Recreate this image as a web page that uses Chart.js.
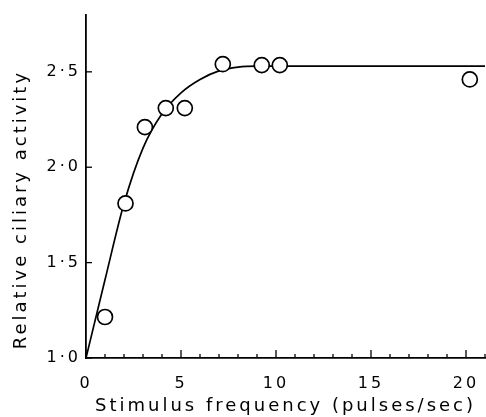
<!DOCTYPE html>
<html>
<head>
<meta charset="utf-8">
<script src="https://cdn.jsdelivr.net/npm/chart.js@4.4.0/dist/chart.umd.min.js"></script>
<style>
  html, body { margin: 0; padding: 0; background: #fff; }
  #wrap { width: 486px; height: 417px; }
</style>
</head>
<body>
<div id="wrap"><canvas id="chart"></canvas></div>
<script>
// open circles (measured)
const freqPts = [1.0, 2.08, 3.1, 4.2, 5.2, 7.2, 9.25, 10.2, 20.2];
const activityPts = [1.215, 1.81, 2.21, 2.31, 2.31, 2.54, 2.535, 2.535, 2.46];

// smooth curve drawn through the points
const curveFreq = [0, 1, 2, 3, 4, 5, 6, 7, 8, 9, 21];
const curveAct = [1.0, 1.41, 1.81, 2.1, 2.28, 2.39, 2.46, 2.505, 2.525, 2.53, 2.53];

// axis ticks
const xTicks = [0, 1, 2, 3, 4, 5, 6, 7, 8, 9, 10, 11, 12, 13, 14, 15, 16, 17, 18, 19, 20, 21];
const xLabelled = [0, 5, 10, 15, 20];
const yTicks = [1.0, 1.5, 2.0, 2.5];

const FONT = '"DejaVu Sans", sans-serif';

// tick marks point into the plot, like the original
const inwardTicks = {
    id: 'inwardTicks',
    beforeDraw(chart) {
        chart.ctx.letterSpacing = '3px';
    },
    afterDraw(chart) {
        const { ctx, chartArea, scales: { x, y } } = chart;
        ctx.save();
        ctx.strokeStyle = '#000';
        ctx.lineWidth = 1.3;
        xTicks.forEach(v => {
            const px = x.getPixelForValue(v);
            const len = xLabelled.includes(v) ? 8 : 4;
            ctx.beginPath();
            ctx.moveTo(px, chartArea.bottom);
            ctx.lineTo(px, chartArea.bottom - len);
            ctx.stroke();
        });
        yTicks.forEach(v => {
            const py = y.getPixelForValue(v);
            ctx.beginPath();
            ctx.moveTo(chartArea.left, py);
            ctx.lineTo(chartArea.left + 6, py);
            ctx.stroke();
        });
        ctx.restore();
    }
};

new Chart(document.getElementById('chart'), {
    type: 'scatter',
    data: {
        datasets: [
            {
                data: freqPts.map((f, i) => ({ x: f, y: activityPts[i] })),
                pointRadius: 7.5,
                pointBorderWidth: 1.7,
                pointBorderColor: '#000',
                pointBackgroundColor: '#fff',
                showLine: false
            },
            {
                data: curveFreq.map((f, i) => ({ x: f, y: curveAct[i] })),
                showLine: true,
                borderColor: '#000',
                borderWidth: 1.7,
                pointRadius: 0,
                cubicInterpolationMode: 'monotone',
                fill: false
            }
        ]
    },
    options: {
        responsive: true,
        maintainAspectRatio: false,
        animation: false,
        devicePixelRatio: 1,
        layout: { autoPadding: false, padding: { top: 14, right: 1, left: 0, bottom: 0 } },
        plugins: {
            legend: { display: false },
            tooltip: { enabled: false }
        },
        scales: {
            x: {
                type: 'linear',
                min: 0,
                max: 21,
                afterBuildTicks: s => { s.ticks = xTicks.map(v => ({ value: v })); },
                afterFit: s => { s.height = 59; s.paddingLeft = 0; s.paddingRight = 0; },
                grid: { display: false, drawTicks: false },
                border: { display: true, color: '#000', width: 1.8 },
                ticks: {
                    autoSkip: false,
                    maxRotation: 0,
                    padding: 16,
                    color: '#000',
                    font: { family: FONT, size: 16 },
                    callback: v => xLabelled.includes(v) ? String(v) : ''
                },
                title: {
                    display: true,
                    text: 'Stimulus frequency (pulses/sec)',
                    color: '#000',
                    font: { family: FONT, size: 18 },
                    padding: { top: 2, bottom: 0 }
                }
            },
            y: {
                type: 'linear',
                min: 1.0,
                max: 2.8,
                afterBuildTicks: s => { s.ticks = yTicks.map(v => ({ value: v })); },
                afterFit: s => { s.width = 86; },
                grid: { display: false, drawTicks: false },
                border: { display: true, color: '#000', width: 1.8 },
                ticks: {
                    padding: 5,
                    color: '#000',
                    font: { family: FONT, size: 16 },
                    callback: v => v.toFixed(1).replace('.', '\u00b7')
                },
                title: {
                    display: true,
                    align: 'start',
                    text: '\u00a0Relative ciliary activity',
                    color: '#000',
                    font: { family: FONT, size: 18 },
                    padding: { top: 11, bottom: 0 }
                }
            }
        }
    },
    plugins: [inwardTicks]
});
</script>
</body>
</html>
